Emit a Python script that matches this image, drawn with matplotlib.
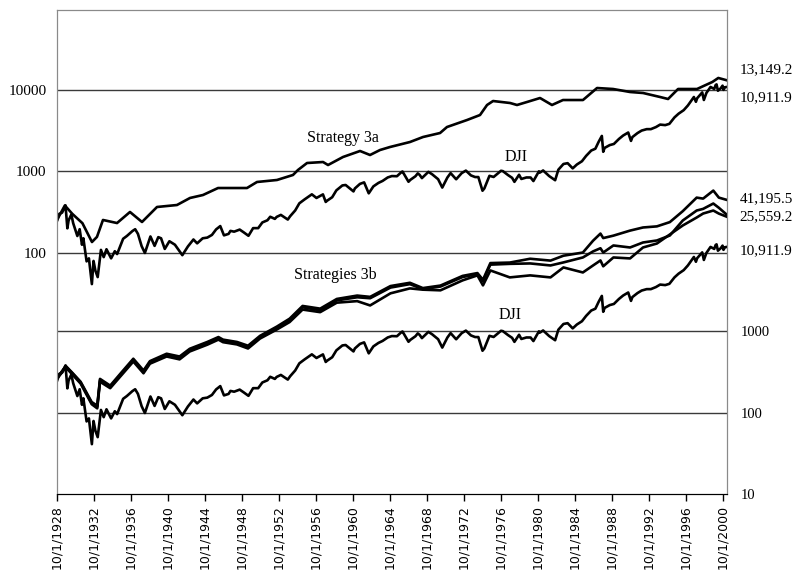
# Dow Jones vs. timing strategies, 1928-2001, log scale with two stacked panels
import matplotlib
matplotlib.use('Agg')
from matplotlib import pyplot as plt

# Dow Jones Industrial Average (decimal years, index level)
dji_years = [1928.75, 1929.0, 1929.3, 1929.67, 1929.87, 1930.0, 1930.3, 1930.5, 1930.95, 1931.2,
             1931.45, 1931.6, 1931.95, 1932.2, 1932.52, 1932.7, 1932.9, 1933.15, 1933.5, 1933.8,
             1934.1, 1934.6, 1935.0, 1935.25, 1935.9, 1936.3, 1936.9, 1937.2, 1937.5, 1937.9,
             1938.25, 1938.85, 1939.3, 1939.7, 1940.0, 1940.4, 1940.9, 1941.5, 1942.3, 1942.9,
             1943.5, 1943.9, 1944.5, 1945.0, 1945.5, 1945.95, 1946.4, 1946.8, 1947.3, 1947.5,
             1947.9, 1948.5, 1948.95, 1949.45, 1949.95, 1950.5, 1950.95, 1951.5, 1951.8, 1952.3,
             1952.5, 1952.95, 1953.7, 1953.95, 1954.5, 1954.95, 1955.5, 1955.95, 1956.3, 1956.8,
             1957.5, 1957.8, 1957.95, 1958.5, 1958.95, 1959.6, 1959.95, 1960.8, 1960.95, 1961.5,
             1961.95, 1962.45, 1962.95, 1963.5, 1963.95, 1964.5, 1964.95, 1965.5, 1965.95, 1966.1,
             1966.75, 1966.95, 1967.5, 1967.75, 1967.95, 1968.2, 1968.9, 1969.3, 1969.95, 1970.4,
             1970.95, 1971.3, 1971.9, 1972.5, 1972.95, 1973.5, 1973.95, 1974.3, 1974.75, 1974.95,
             1975.5, 1975.95, 1976.75, 1976.95, 1977.5, 1977.95, 1978.2, 1978.7, 1978.95, 1979.5,
             1979.95, 1980.25, 1980.85, 1980.95, 1981.3, 1981.95, 1982.6, 1982.95, 1983.5, 1983.95,
             1984.5, 1984.95, 1985.5, 1985.95, 1986.5, 1986.95, 1987.3, 1987.65, 1987.8, 1987.95,
             1988.5, 1988.95, 1989.5, 1989.95, 1990.5, 1990.8, 1990.95, 1991.5, 1991.95, 1992.5,
             1992.95, 1993.5, 1993.95, 1994.5, 1994.95, 1995.5, 1995.95, 1996.5, 1996.95, 1997.6,
             1997.82, 1997.95, 1998.5, 1998.68, 1998.95, 1999.4, 1999.8, 1999.95, 2000.05, 2000.2,
             2000.5, 2000.7, 2000.8, 2000.95, 2001.18]
dji_vals = [245, 300, 310, 381, 199, 248, 294, 230, 160, 194,
            125, 150, 78, 85, 41, 79, 60, 50, 108, 88,
            110, 85, 104, 96, 148, 160, 184, 194, 170, 120,
            99, 158, 121, 155, 150, 111, 138, 125, 93, 119,
            145, 130, 150, 153, 165, 193, 212, 163, 170, 185,
            181, 192, 177, 161, 200, 200, 235, 250, 276, 260,
            275, 291, 255, 280, 330, 404, 450, 488, 521, 470,
            520, 420, 435, 480, 583, 670, 679, 566, 615, 700,
            731, 536, 652, 720, 762, 840, 874, 870, 969, 995,
            744, 785, 870, 943, 905, 825, 985, 920, 800, 631,
            838, 950, 798, 950, 1020, 890, 850, 850, 577, 616,
            880, 852, 1015, 1005, 900, 831, 742, 907, 805, 840,
            839, 759, 1000, 964, 1024, 875, 777, 1047, 1230, 1259,
            1087, 1212, 1330, 1547, 1800, 1896, 2300, 2722, 1739, 1939,
            2100, 2169, 2500, 2753, 2999, 2365, 2634, 2950, 3169, 3300,
            3301, 3500, 3754, 3700, 3834, 4600, 5117, 5650, 6448, 8200,
            7160, 7908, 9338, 7539, 9181, 10900, 10300, 11497, 11723, 9796,
            10500, 11310, 10034, 10787, 10911.9]

# Strategy 3a (upper panel, left scale)
s3a_years = [1928.75, 1929.6, 1930.4, 1931.5, 1932.53, 1933.07, 1933.72, 1935.24, 1936.64, 1937.94,
             1939.56, 1941.72, 1943.13, 1944.53, 1946.16, 1946.7, 1949.29, 1950.37, 1952.53, 1954.26,
             1954.8, 1955.78, 1957.51, 1958.05, 1959.67, 1961.51, 1962.59, 1963.67, 1964.75, 1966.91,
             1968.32, 1970.16, 1970.91, 1973.08, 1974.48, 1975.24, 1975.89, 1977.73, 1978.48, 1979.56,
             1980.97, 1982.26, 1983.45, 1985.61, 1987.13, 1988.86, 1990.7, 1992.11, 1993.95, 1994.81,
             1995.89, 1997.94, 1999.59, 2000.24, 2001.18]
s3a_vals = [252, 380, 300, 230, 135, 156, 252, 231, 316, 238,
            364, 385, 470, 511, 623, 623, 623, 739, 782, 901,
            1038, 1265, 1301, 1195, 1500, 1778, 1587, 1828, 1990, 2293,
            2642, 2958, 3506, 4276, 4925, 6540, 7320, 6920, 6540, 7120,
            7970, 6540, 7530, 7530, 10580, 10290, 9450, 9185, 8200, 7750,
            10290, 10290, 12540, 14060, 13149.2]

# Strategies 3b (lower panel, right scale)
s3b_years = [1928.75, 1929.7, 1930.4, 1931.3, 1932.5, 1933.1, 1933.4, 1934.5, 1935.8, 1937.0,
             1938.1, 1938.8, 1940.6, 1942.0, 1943.1, 1945.0, 1946.2, 1946.7, 1948.2, 1949.4,
             1950.7, 1952.5, 1953.9, 1955.3, 1957.2, 1959.0, 1961.2, 1962.6, 1964.8, 1966.9,
             1968.3, 1970.2, 1972.6, 1974.2, 1974.8, 1975.6, 1977.7, 1979.9, 1982.1, 1983.5,
             1985.6, 1986.7, 1987.5, 1987.8, 1988.9, 1990.7, 1992.1, 1993.6, 1995.0, 1996.4,
             1997.9, 1998.6, 1999.7, 2000.3, 2001.18]
s3b_high = [265, 375, 310, 240, 135, 122, 260, 215, 320, 460,
            330, 430, 530, 490, 610, 740, 850, 790, 740, 665,
            880, 1140, 1430, 2050, 1900, 2500, 2750, 2650, 3600, 3950,
            3400, 3650, 4800, 5200, 4300, 6900, 7000, 7800, 7400, 8500,
            9300, 13000, 15900, 14000, 15000, 17300, 18900, 19500, 22000, 30000,
            44000, 42800, 53700, 44000, 41195.5]
s3b_mid = [265, 370, 305, 235, 131, 118, 252, 208, 308, 445,
           318, 418, 510, 470, 588, 715, 822, 765, 715, 640,
           848, 1095, 1370, 1975, 1815, 2400, 2620, 2550, 3450, 3800,
           3300, 3550, 4650, 5050, 4150, 6600, 6750, 6830, 6450, 7030,
           8090, 9600, 10500, 9300, 11360, 10730, 12360, 13080, 15060, 23030,
           30530, 32000, 37220, 33000, 27000]
s3b_low = [260, 360, 295, 228, 127, 113, 240, 200, 296, 425,
           305, 400, 490, 452, 565, 685, 790, 735, 690, 615,
           815, 1050, 1300, 1850, 1720, 2250, 2350, 2080, 2930, 3370,
           3250, 3190, 4230, 4870, 3670, 5600, 4600, 4870, 4600, 6100,
           5290, 6450, 7430, 6300, 8090, 7870, 10730, 12000, 15500, 20000,
           25050, 28050, 30530, 28000, 25559.2]

tick_years = list(range(1928, 2001, 4))
left_ticks = [100, 1000, 10000]
right_ticks = [10, 100, 1000]
top_end_labels = ['13,149.2', '10,911.9']
bottom_end_labels = ['41,195.5', '25,559.2', '10,911.9']

serif = 'Liberation Serif'
line_kw = dict(color='black', lw=1.9, solid_joinstyle='round')
grid_kw = dict(color='#3a3a3a', lw=1.0, zorder=1)

fig = plt.figure(figsize=(7.94, 5.82), dpi=100)
ax = fig.add_axes([57 / 794, 88 / 582, 670 / 794, 484 / 582])
ax.set_yscale('log')
ax.set_xlim(1928.75, 2001.18)
ax.set_ylim(10 ** -0.969, 10 ** 4.984)

ax2 = ax.twinx()
ax2.set_yscale('log')
ax2.set_ylim(10, 10 ** 6.95)

for v in left_ticks:
    ax.axhline(v, **grid_kw)
for v in right_ticks[1:]:
    ax2.axhline(v, **grid_kw)

# upper panel
ax.plot(dji_years, dji_vals, **line_kw)
ax.plot(s3a_years, s3a_vals, **line_kw)
# lower panel
ax2.plot(dji_years, dji_vals, **line_kw)
ax2.plot(s3b_years, s3b_high, **line_kw)
ax2.plot(s3b_years, s3b_mid, **line_kw)
ax2.plot(s3b_years, s3b_low, **line_kw)

ax.text(1959.7, 2600, 'Strategy 3a', ha='center', va='center', fontsize=11.5, family=serif)
ax.text(1978.4, 1500, 'DJI', ha='center', va='center', fontsize=11.5, family=serif)
ax2.text(1958.8, 4870, 'Strategies 3b', ha='center', va='center', fontsize=11.5, family=serif)
ax2.text(1977.7, 1570, 'DJI', ha='center', va='center', fontsize=11.5, family=serif)

# final values to the right of the plot
for txt, dy in zip(top_end_labels, [8, -8]):
    ax.annotate(txt, xy=(1, float(txt.replace(',', ''))), xycoords=('axes fraction', 'data'),
                xytext=(9, dy), textcoords='offset points', va='center',
                fontsize=11, family=serif, annotation_clip=False)
for txt, dy in zip(bottom_end_labels, [1, 0, -3]):
    ax2.annotate(txt, xy=(1, float(txt.replace(',', ''))), xycoords=('axes fraction', 'data'),
                 xytext=(9, dy), textcoords='offset points', va='center',
                 fontsize=11, family=serif, annotation_clip=False)

ax.set_yticks(left_ticks, labels=[str(v) for v in left_ticks])
ax.yaxis.set_minor_locator(matplotlib.ticker.NullLocator())
ax.tick_params(axis='y', length=0, pad=7.5, labelsize=11)
for lbl in ax.get_yticklabels():
    lbl.set_family(serif)

ax2.set_yticks(right_ticks, labels=[str(v) for v in right_ticks])
ax2.yaxis.set_minor_locator(matplotlib.ticker.NullLocator())
ax2.tick_params(axis='y', length=0, pad=10, labelsize=10.5)
for lbl in ax2.get_yticklabels():
    lbl.set_family(serif)

ax.set_xticks([y + 0.75 for y in tick_years], labels=['10/1/%d' % y for y in tick_years])
ax.tick_params(axis='x', direction='out', length=5, width=1, pad=3, labelsize=9, labelrotation=90)

for a in (ax, ax2):
    for side in ('left', 'right', 'top'):
        a.spines[side].set_color('#8a8a8a')
    a.spines['bottom'].set_color('black')

fig.savefig('out.png', dpi=100)
